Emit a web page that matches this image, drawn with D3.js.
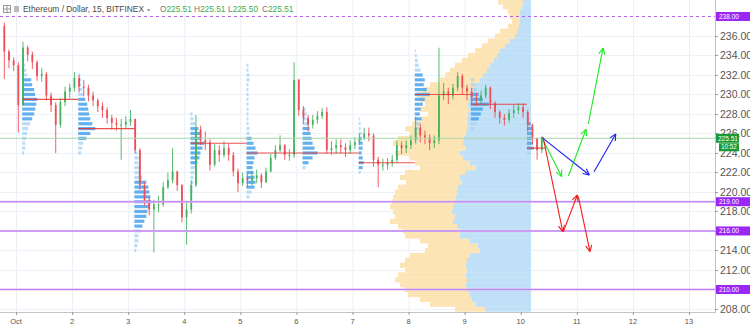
<!DOCTYPE html>
<html><head><meta charset="utf-8">
<script src="https://cdn.jsdelivr.net/npm/d3@7/dist/d3.min.js"></script>
<style>html,body{margin:0;padding:0;background:#fff;overflow:hidden}svg{display:block;font-family:"Liberation Sans",Arial,sans-serif}</style>
</head><body><svg id="c" width="750" height="326"></svg>
<script>
// ---------- DATA ----------
const barStartDay = 0.75;     // first 2-hour bar starts Sept 30, 18:00
const barsPerDay = 12;
const firstOpen = 237.0;
const closes = [234.4,233.5,233.0,228.9,234.8,234.1,233.3,231.9,232.1,229.9,228.9,226.9,229.2,230.3,230.7,231.7,230.8,230.7,229.9,229.4,
228.8,228.4,227.6,227.1,226.9,226.9,227.2,227.5,224.3,220.7,219.2,218.2,218.7,218.7,220.5,221.2,222.1,220.7,217.4,218.2,
220.7,226.4,225.3,225.1,222.8,224.3,223.8,224.5,223.8,222.1,220.9,221.4,221.2,221.4,221.7,221.0,222.1,223.5,224.3,224.8,
223.8,223.8,231.5,228.4,227.6,226.9,227.4,227.8,228.2,224.3,224.5,224.8,224.6,224.3,224.8,225.1,225.5,226.0,225.8,223.3,
222.8,222.8,223.0,223.3,224.8,224.5,224.8,225.3,226.6,225.8,225.6,225.0,225.3,229.9,230.3,229.9,230.7,231.9,230.7,230.3,
229.7,229.4,229.9,230.7,229.1,228.2,227.6,227.4,228.1,228.4,228.7,228.2,226.9,225.5,224.3,225.51];
const highs = [237.4,234.6,233.8,233.3,235.4,235.0,234.4,233.5,232.7,232.3,230.2,229.2,229.6,230.8,231.1,232.3,232.0,231.5,231.0,230.3,
229.6,229.2,228.7,227.9,227.6,227.5,227.8,228.4,227.4,224.5,221.0,219.5,219.2,219.6,221.0,222.0,224.5,222.2,220.8,218.9,
221.2,227.9,226.8,226.2,225.4,224.9,224.8,225.2,224.9,224.1,222.4,222.0,221.9,222.0,222.3,221.9,222.5,223.9,224.8,225.8,
224.9,224.4,233.3,231.6,228.8,227.9,227.9,228.3,228.6,228.7,225.2,225.4,225.4,225.0,225.3,225.6,226.0,226.6,226.6,226.0,
223.6,223.4,223.5,223.8,225.3,225.2,225.3,225.8,227.7,227.0,226.3,225.9,225.8,234.8,231.2,230.7,231.1,232.3,232.1,231.0,
230.7,230.2,230.4,231.0,230.8,229.3,228.4,228.0,228.5,228.9,229.1,229.1,228.4,227.0,225.6,225.7];
const lows = [231.6,232.7,232.4,226.1,228.9,233.4,232.6,231.4,231.3,229.4,228.2,224.0,226.6,228.8,229.6,230.3,230.2,229.8,229.3,228.8,
228.2,227.6,227.0,226.4,226.3,223.3,226.5,226.8,224.0,220.2,218.6,217.6,213.8,217.9,218.5,220.3,220.9,220.1,216.9,214.6,
217.8,220.5,224.8,224.3,222.2,222.6,223.1,223.5,223.2,221.6,220.0,220.6,220.4,220.7,220.9,220.4,220.9,222.0,223.3,224.1,
223.3,223.2,223.5,227.8,227.0,226.2,226.5,227.0,227.5,223.9,223.8,223.9,224.0,223.6,223.9,224.4,224.8,225.3,225.2,222.6,
220.5,222.2,222.3,222.6,223.0,223.9,224.0,224.4,225.0,225.1,224.9,224.3,224.5,224.9,229.4,229.0,229.5,230.3,230.0,229.4,
229.0,228.8,229.0,229.6,228.5,227.6,227.0,226.8,227.1,227.6,228.0,227.6,226.2,224.9,223.3,224.0];

const dayTicks = [1,2,3,4,5,6,7,8,9,10,11,12,13];
const dayLabels = ["Oct","2","3","4","5","6","7","8","9","10","11","12","13"];
const priceTicks = [208,210,212,214,216,218,220,222,224,226,228,230,232,234,236];

const levelPrices = [238, 219, 216, 210];
const levelDashed = [true, false, false, false];
const lastPrice = 225.51;
const countdown = "10:52";

// visible-range volume profile (rows of 0.5, bottom-up from 208.0)
const vpLow = 208.0, vpStep = 0.5, vpAnchorDay = 10.183;
const vpUp = [46,55,59,61,64,65,64,65,64,65,64,61,51,53,61,71,71,74,78,76,79,78,76,75,74,73,69,71,66,55,61,68,
71,65,68,67,65,64,63,64,63,61,63,62,61,58,55,51,48,44,41,37,34,31,26,21,16,14,12,11,11,11,9,8];
const vpDown = [30,46,52,62,62,66,72,68,62,66,62,60,55,50,50,55,57,59,63,60,59,63,63,63,62,60,56,60,60,56,55,53,
65,66,70,66,56,62,56,45,40,50,43,49,53,50,46,40,38,37,35,32,29,25,23,22,20,17,11,8,10,12,19,25];

// session volume profiles (rows of 0.5, bottom-up from sessionLow)
const sessionDays = [1,2,3,4,5,6,7,8,9,10];
const sessionLow = [224.0,224.0,214.0,220.0,219.5,222.5,222.0,225.0,226.5,224.0];
const sessionVols = [
 [2,3,3,4,5,6,8,10,12,13,14,15,13,12,10,9,5,4,3,2],
 [3,4,5,8,12,17,14,12,11,10,9,7,5,4,3,3,2],
 [2,3,4,4,6,8,10,12,13,15,17,16,15,14,12,8,6,5,4,4,3],
 [2,2,3,3,4,5,7,9,10,12,14,11,10,8,5,3,2],
 [3,5,8,9,8,7,6,7,8,11,9,7,5,3,3,2,2,2,2,2,2,2,2,2,3,3,2,2],
 [3,6,10,15,12,10,9,8,7,6,4,4,3],
 [2,4,5,4,3,4,4,3,3,2,2,1],
 [2,3,3,4,5,7,5,6,8,10,15,12,9,10,8,6,4,3,2,1],
 [3,6,8,10,12,18,12,8,6,5,3],
 [4,7,6,5,6,5,4,3,2,1]
];
const sessionPoc = [229.5,226.5,219.0,225.0,224.0,224.0,223.0,230.0,229.0,224.5];
const sessionVA = [[227.5,231.5],[225.5,229.5],[216.5,221.0],[223.0,226.5],[220.5,225.5],[223.0,226.5],[222.5,225.5],[227.5,232.0],[227.5,230.0],[224.5,227.0]];
const sessionOffset = 0.11;

// drawn projection arrows: [day, price] pairs
const greenPath = [[[10.375,225.6],[10.731,221.57]],[[10.849,221.64],[11.164,226.43]],[[11.205,226.97],[11.467,234.77]]];
const bluePath  = [[[10.375,225.6],[11.223,221.74]],[[11.307,222.08],[11.694,225.95]]];
const redPath   = [[[10.397,225.64],[10.749,215.93]],[[10.76,215.93],[11.009,219.69]],[[11.027,219.52],[11.235,213.88]]];

// ---------- CHART ----------
const svg = d3.select("#c");
const plotR = 715, plotB = 312;
const x = d3.scaleLinear().domain([1,13]).range([16,689]);
const y = d3.scaleLinear().domain([207.69,239.69]).range([plotB,0]);
const vol = d3.scaleLinear().domain([0,100]).range([0,100]);
const svol = d3.scaleLinear().domain([0,18]).range([0,18]);

svg.append("rect").attr("width",750).attr("height",326).attr("fill","#fff");
const defs = svg.append("defs");
defs.append("clipPath").attr("id","plot").append("rect").attr("x",0).attr("y",0).attr("width",plotR).attr("height",plotB);
const g = svg.append("g").attr("clip-path","url(#plot)");

// grid
g.selectAll(".vg").data(dayTicks).enter().append("line")
 .attr("x1",d=>x(d)+0.5).attr("x2",d=>x(d)+0.5).attr("y1",0).attr("y2",plotB)
 .attr("stroke","#eaeff7").attr("stroke-width",1);
g.selectAll(".hg").data(priceTicks).enter().append("line")
 .attr("x1",0).attr("x2",plotR).attr("y1",d=>Math.round(y(d))+0.5).attr("y2",d=>Math.round(y(d))+0.5)
 .attr("stroke","#eef2f8").attr("stroke-width",1);

// visible range volume profile
const vpRight = x(vpAnchorDay);
const rowH = Math.abs(y(0)-y(vpStep));
vpUp.forEach((v,i)=>{
  const p = vpLow + i*vpStep;
  const yc = y(p);
  const bw = vol(v), yw = vol(vpDown[i]);
  g.append("rect").attr("x",vpRight-bw).attr("y",yc-rowH/2).attr("width",bw).attr("height",rowH+0.3).attr("fill","#c0e0f8");
  g.append("rect").attr("x",vpRight-bw-yw).attr("y",yc-rowH/2).attr("width",yw).attr("height",rowH+0.3).attr("fill","#fde4b4");
});
{
  const p = vpLow + (vpUp.length-1)*vpStep;
  const top = y(p)-rowH/2;
  const bw = vol(vpUp[vpUp.length-1]), yw = vol(vpDown[vpDown.length-1]);
  g.append("rect").attr("x",vpRight-bw).attr("y",0).attr("width",bw).attr("height",top+0.3).attr("fill","#c0e0f8");
  g.append("rect").attr("x",vpRight-bw-yw).attr("y",0).attr("width",yw).attr("height",top+0.3).attr("fill","#fde4b4");
}

// session volume profiles
sessionDays.forEach((d,k)=>{
  const x0 = x(d+sessionOffset);
  sessionVols[k].forEach((v,i)=>{
    const p = sessionLow[k] + i*0.5;
    const inVA = p>=sessionVA[k][0] && p<=sessionVA[k][1];
    g.append("rect").attr("x",x0).attr("y",y(p)-1.6).attr("width",svol(v)).attr("height",3.2)
      .attr("fill",inVA?"#4aa3ec":"#a9d3f5").attr("opacity",inVA?0.85:0.8);
  });
});

// candles
const bw = 1.8;
closes.forEach((c,i)=>{
  const o = i===0 ? firstOpen : closes[i-1];
  const t = barStartDay + (i+0.5)/barsPerDay;
  const cx = x(t);
  const up = c>=o;
  const col = up ? "#45b35f" : "#ef4d58";
  const hi = Math.max(highs[i],o,c), lo = Math.min(lows[i],o,c);
  g.append("line").attr("x1",cx).attr("x2",cx).attr("y1",y(hi)).attr("y2",y(lo)).attr("stroke",col).attr("stroke-width",0.9);
  const yt = y(Math.max(o,c)), yb = y(Math.min(o,c));
  g.append("rect").attr("x",cx-bw/2).attr("y",yt).attr("width",bw).attr("height",Math.max(1,yb-yt)).attr("fill",col);
});

// POC lines
sessionDays.forEach((d,k)=>{
  const x0 = x(d+sessionOffset);
  const x1 = k<sessionDays.length-1 ? x(sessionDays[k+1]+sessionOffset) : x(barStartDay+(closes.length+0.3)/barsPerDay);
  g.append("line").attr("x1",x0).attr("x2",x1).attr("y1",y(sessionPoc[k])).attr("y2",y(sessionPoc[k]))
   .attr("stroke","#e8342f").attr("stroke-width",1.2).attr("opacity",0.85);
});

// horizontal level lines
levelPrices.forEach((p,i)=>{
  const yy = y(p);
  if(levelDashed[i]){
    g.append("line").attr("x1",0).attr("x2",plotR).attr("y1",yy).attr("y2",yy)
     .attr("stroke","#b45cf0").attr("stroke-width",1).attr("stroke-dasharray","3,3");
  } else {
    g.append("line").attr("x1",0).attr("x2",plotR).attr("y1",yy).attr("y2",yy)
     .attr("stroke","#dcb6f8").attr("stroke-width",2);
    g.append("line").attr("x1",0).attr("x2",plotR).attr("y1",yy).attr("y2",yy)
     .attr("stroke","#b56ff0").attr("stroke-width",0.7);
  }
});
// last price line
g.append("line").attr("x1",0).attr("x2",plotR).attr("y1",y(lastPrice)).attr("y2",y(lastPrice))
 .attr("stroke","#a8d8a8").attr("stroke-width",1);

// arrows
function drawArrows(segs,col){
  segs.forEach(s=>{
    const x1=x(s[0][0]), y1=y(s[0][1]), x2=x(s[1][0]), y2=y(s[1][1]);
    g.append("line").attr("x1",x1).attr("y1",y1).attr("x2",x2).attr("y2",y2).attr("stroke",col).attr("stroke-width",1.1);
    const a = Math.atan2(y2-y1,x2-x1), L=7, sp=0.45;
    [a+Math.PI-sp, a+Math.PI+sp].forEach(b=>{
      g.append("line").attr("x1",x2).attr("y1",y2).attr("x2",x2+L*Math.cos(b)).attr("y2",y2+L*Math.sin(b))
       .attr("stroke",col).attr("stroke-width",1.1);
    });
  });
}
drawArrows(greenPath,"#1ee81e");
drawArrows(bluePath,"#1f22f0");
drawArrows(redPath,"#f21c1c");

// axes frame
svg.append("line").attr("x1",plotR+0.5).attr("x2",plotR+0.5).attr("y1",0).attr("y2",plotB+1).attr("stroke","#c4c4c4");
svg.append("line").attr("x1",0).attr("x2",plotR+0.5).attr("y1",plotB+0.5).attr("y2",plotB+0.5).attr("stroke","#c4c4c4");

// right axis (labels hidden where a level label sits on top)
const ra = svg.append("g");
priceTicks.forEach(p=>{
  const yy = Math.round(y(p))+0.5;
  ra.append("line").attr("x1",plotR).attr("x2",plotR+3).attr("y1",yy).attr("y2",yy).attr("stroke","#9a9a9a");
  if(levelPrices.some(l=>Math.abs(l-p)<0.6)) return;
  ra.append("text").attr("x",plotR+5).attr("y",yy).attr("dy","0.35em").attr("font-size",10.5).attr("fill","#555")
    .text(p.toFixed(2));
});
levelPrices.forEach(p=>{
  const yy = y(p);
  ra.append("rect").attr("x",plotR+1).attr("y",yy-4.5).attr("width",34).attr("height",9).attr("fill","#9b27f2");
  ra.append("text").attr("x",plotR+4).attr("y",yy).attr("dy","0.35em").attr("font-size",6.5).attr("fill","#fff").text(p.toFixed(2));
});
{
  const yy = y(lastPrice);
  ra.append("rect").attr("x",plotR+1).attr("y",yy-4.5).attr("width",23).attr("height",9).attr("fill","#1a9a35");
  ra.append("text").attr("x",plotR+3).attr("y",yy).attr("dy","0.35em").attr("font-size",6.5).attr("fill","#fff").text(lastPrice.toFixed(2));
  ra.append("rect").attr("x",plotR+4).attr("y",yy+5).attr("width",20).attr("height",8).attr("fill","#1a9a35");
  ra.append("text").attr("x",plotR+6).attr("y",yy+9).attr("dy","0.35em").attr("font-size",6.3).attr("fill","#fff").text(countdown);
}

// bottom axis
const ba = svg.append("g");
dayTicks.forEach((d,i)=>{
  ba.append("line").attr("x1",x(d)+0.5).attr("x2",x(d)+0.5).attr("y1",plotB).attr("y2",plotB+3).attr("stroke","#9a9a9a");
  ba.append("text").attr("x",x(d)).attr("y",321).attr("dy","0.35em").attr("text-anchor","middle")
    .attr("font-size",7.5).attr("fill","#555").text(dayLabels[i]);
});

// title / legend
const tg = svg.append("g");
tg.append("rect").attr("x",3.5).attr("y",5.5).attr("width",7).attr("height",7).attr("fill","none").attr("stroke","#9a9a9a");
tg.append("line").attr("x1",7).attr("x2",7).attr("y1",5.5).attr("y2",12.5).attr("stroke","#9a9a9a");
tg.append("line").attr("x1",3.5).attr("x2",10.5).attr("y1",9).attr("y2",9).attr("stroke","#9a9a9a");
tg.append("rect").attr("x",14).attr("y",6).attr("width",5).attr("height",6).attr("fill","#bbb");
const tt = tg.append("text").attr("x",23).attr("y",12).attr("font-size",8.4).attr("fill","#4a4a4a");
tt.append("tspan").text("Ethereum / Dollar, 15, BITFINEX");
tt.append("tspan").attr("fill","#999").attr("font-size",6).attr("dx",3).text("▾");
const ohlcLabels = ["O","H","L","C"];
const ohlcValues = ["225.51","225.51","225.50","225.51"];
const ohlcX = [160,194,228,262];
ohlcLabels.forEach((l,i)=>{
  const t = tg.append("text").attr("x",ohlcX[i]).attr("y",12).attr("font-size",8.3);
  t.append("tspan").attr("fill","#777").text(l);
  t.append("tspan").attr("fill","#3cae4c").text(ohlcValues[i]);
});
</script></body></html>
